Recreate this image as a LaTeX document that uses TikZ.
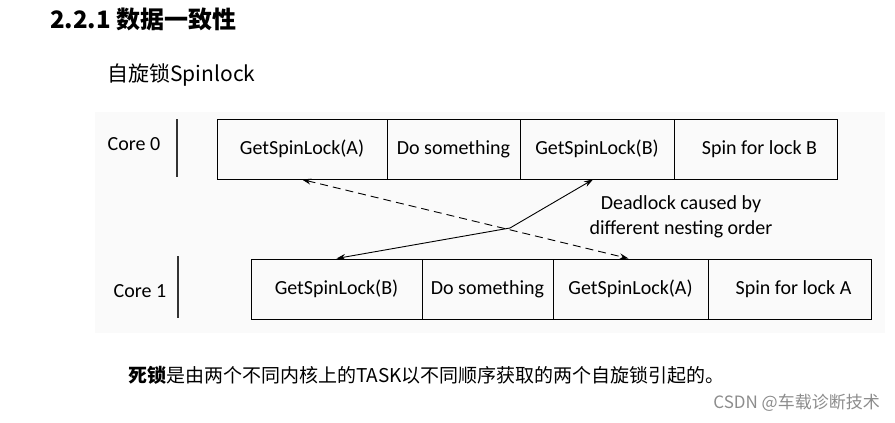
\documentclass[tikz,border=0pt]{standalone}
\usepackage{fontspec}
\setmainfont{Carlito}
\newfontfamily\cjk{Noto Sans CJK SC}
\usetikzlibrary{arrows.meta}

\tikzset{
  cell/.style={draw, line width=1pt, inner sep=0pt, minimum height=60pt,
    font=\fontsize{20}{24}\selectfont},
  corebar/.style={line width=1.6pt, black!80},
  tip/.style={{Stealth[length=9pt,width=6pt]}-{Stealth[length=9pt,width=6pt]}, line width=0.9pt},
}

\begin{document}
\begin{tikzpicture}[x=1pt, y=-1pt]
\useasboundingbox (0,0) rectangle (895,423);
\fill[black!2] (95,112) rectangle (885,333);

% Headings
\path[inner sep=0pt]
(50,19) node[anchor=west, font=\cjk\bfseries\fontsize{24}{28}\selectfont] (title) {2.2.1 数据一致性}
(107,75) node[anchor=west, font=\cjk\fontsize{21}{25}\selectfont] (sub) {自旋锁Spinlock}
;

% Define nodes
\path
(302,149) node[cell, minimum width=170pt] (getA0) {GetSpinLock(A)}
(453.5,149) node[cell, minimum width=133pt] (work0) {Do something}
(597,149) node[cell, minimum width=154pt] (getB0) {GetSpinLock(B)}
(755.5,149) node[cell, minimum width=163pt] (spinB) {\hspace{8pt}Spin for lock B}
;
\path
(336.5,289) node[cell, minimum width=171pt] (getB1) {GetSpinLock(B)}
(487.5,289) node[cell, minimum width=131pt] (work1) {Do something}
(630.5,289) node[cell, minimum width=155pt] (getA1) {GetSpinLock(A)}
(789.5,289) node[cell, minimum width=163pt] (spinA) {\hspace{8pt}Spin for lock A}
;

\path[font=\fontsize{20}{24}\selectfont]
(134,144) node (core0) {Core 0}
(140,291) node (core1) {Core 1}
(681,217) node[align=center, font=\fontsize{20}{25}\selectfont] (why) {Deadlock caused by\\different nesting order}
;
\draw[corebar] (177,119) -- (177,177);
\draw[corebar] (178,256) -- (178,318);

% Arrows
\coordinate (cross) at (510,228);
\draw[tip] (getB1.north) -- (cross) -- ([xshift=-4pt]getB0.south);
\draw[tip, dash pattern=on 8pt off 5pt] (getA0.south) -- ([xshift=-2pt]getA1.north);

% Notes
\path[inner sep=0pt]
(128,375) node[anchor=west, font=\cjk\fontsize{19}{23}\selectfont] (note) {{\bfseries 死锁}是由两个不同内核上的TASK以不同顺序获取的两个自旋锁引起的。}
(880,403) node[anchor=east, text=black!45, font=\cjk\fontsize{17}{20}\selectfont] (mark) {CSDN @车载诊断技术}
;
\end{tikzpicture}
\end{document}
